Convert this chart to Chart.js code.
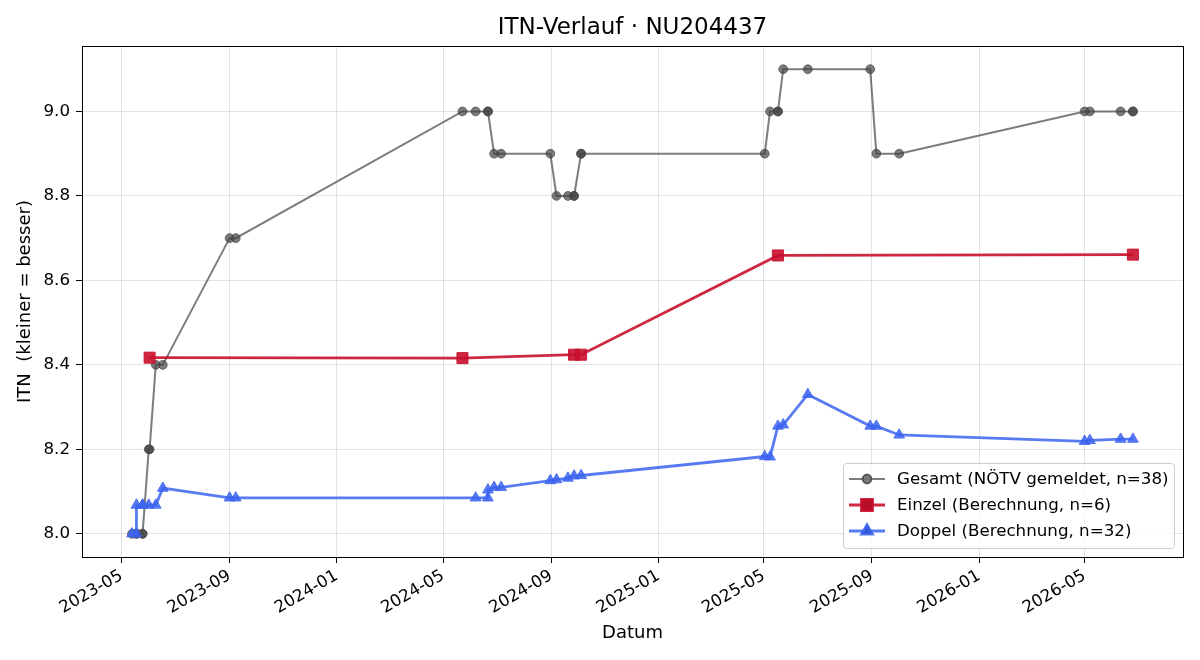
<!DOCTYPE html>
<html>
<head>
<meta charset="utf-8">
<style>
  body { margin: 0; background: #fff; }
  canvas { display: block; }
</style>
<script src="https://cdn.jsdelivr.net/npm/chart.js@4/dist/chart.umd.min.js"></script>
</head>
<body>
<canvas id="chart" width="1200" height="660"></canvas>
<script>
const gesamtDates = ['2023-05-13', '2023-05-18', '2023-05-18', '2023-05-25', '2023-05-25', '2023-06-01', '2023-06-02', '2023-06-09', '2023-06-17',
  '2023-09-01', '2023-09-08',
  '2024-05-23', '2024-06-07', '2024-06-21', '2024-06-21', '2024-06-28', '2024-07-06', '2024-08-31', '2024-09-07', '2024-09-20', '2024-09-27', '2024-09-27', '2024-10-05', '2024-10-05',
  '2025-05-02', '2025-05-08', '2025-05-17', '2025-05-17', '2025-05-23', '2025-06-20', '2025-08-30', '2025-09-06', '2025-10-02',
  '2026-05-01', '2026-05-07', '2026-06-11', '2026-06-25', '2026-06-25'];
const gesamtValues = [8.0, 8.0, 8.0, 8.0, 8.0, 8.2, 8.2, 8.4, 8.4,
  8.7, 8.7,
  9.0, 9.0, 9.0, 9.0, 8.9, 8.9, 8.9, 8.8, 8.8, 8.8, 8.8, 8.9, 8.9,
  8.9, 9.0, 9.0, 9.0, 9.1, 9.1, 9.1, 8.9, 8.9,
  9.0, 9.0, 9.0, 9.0, 9.0];

const einzelDates = ['2023-06-02', '2024-05-23', '2024-09-27', '2024-10-05', '2025-05-17', '2026-06-25'];
const einzelValues = [8.417, 8.416, 8.424, 8.424, 8.659, 8.661];

const doppelDates = ['2023-05-13', '2023-05-18', '2023-05-18', '2023-05-25', '2023-05-25', '2023-06-01', '2023-06-09', '2023-06-17',
  '2023-09-01', '2023-09-08',
  '2024-06-07', '2024-06-21', '2024-06-21', '2024-06-28', '2024-07-06', '2024-08-31', '2024-09-07', '2024-09-20', '2024-09-27', '2024-10-05',
  '2025-05-02', '2025-05-08', '2025-05-17', '2025-05-23', '2025-06-20', '2025-08-30', '2025-09-06', '2025-10-02',
  '2026-05-01', '2026-05-07', '2026-06-11', '2026-06-25'];
const doppelValues = [8.0, 8.0, 8.068, 8.068, 8.068, 8.068, 8.068, 8.108,
  8.085, 8.085,
  8.085, 8.085, 8.104, 8.110, 8.110, 8.126, 8.128, 8.132, 8.137, 8.138,
  8.183, 8.182, 8.255, 8.258, 8.330, 8.255, 8.255, 8.234,
  8.219, 8.221, 8.224, 8.224];

const xTickLabels = ['2023-05', '2023-09', '2024-01', '2024-05', '2024-09', '2025-01', '2025-05', '2025-09', '2026-01', '2026-05'];
const yTicks = [8.0, 8.2, 8.4, 8.6, 8.8, 9.0];

const FONT = "'DejaVu Sans', 'Liberation Sans', sans-serif";
const FS = 16.7;
const chartTitle = 'ITN-Verlauf · NU204437';
Chart.defaults.font.family = FONT;
Chart.defaults.color = '#000';

function toPoints(dates, values) {
  return dates.map((d, i) => ({ x: Date.parse(d), y: values[i] }));
}

// matplotlib-like 5% margins
const allX = gesamtDates.concat(einzelDates, doppelDates).map(d => Date.parse(d));
const allY = gesamtValues.concat(einzelValues, doppelValues);
const xMin0 = Math.min(...allX), xMax0 = Math.max(...allX);
const yMin0 = Math.min(...allY), yMax0 = Math.max(...allY);
const xPad = (xMax0 - xMin0) * 0.05, yPad = (yMax0 - yMin0) * 0.05;

const grey = 'rgba(68,68,68,0.7)';
const red = 'rgba(200,16,46,0.9)';
const blue = 'rgba(60,100,240,0.85)';

const frame = {
  id: 'frame',
  afterDatasetsDraw(chart) {
    const { ctx, chartArea: a } = chart;
    ctx.save();
    ctx.strokeStyle = '#000';
    ctx.lineWidth = 1;
    ctx.strokeRect(Math.round(a.left) + 0.5, Math.round(a.top) + 0.5, Math.round(a.right - a.left), Math.round(a.bottom - a.top));
    ctx.restore();
  },
  afterDraw(chart) {
    const { ctx, chartArea: a } = chart;
    ctx.save();
    // title centred over the plot area
    ctx.font = '23px ' + FONT;
    ctx.fillStyle = '#000';
    ctx.textAlign = 'center';
    ctx.textBaseline = 'middle';
    ctx.fillText(chartTitle, (a.left + a.right) / 2, 28);

    // legend, lower right inside the axes
    const w = 331, h = 85;
    const bx = a.right - 9 - w, by = a.bottom - 9 - h;
    ctx.beginPath();
    ctx.roundRect(bx + 0.5, by + 0.5, w, h, 3);
    ctx.fillStyle = 'rgba(255,255,255,0.8)';
    ctx.fill();
    ctx.strokeStyle = '#cccccc';
    ctx.lineWidth = 1;
    ctx.stroke();
    ctx.font = FS + 'px ' + FONT;
    ctx.textAlign = 'left';
    chart.data.datasets.forEach((ds, i) => {
      const y = by + 16 + i * 26;
      ctx.beginPath();
      ctx.moveTo(bx + 6, y);
      ctx.lineTo(bx + 42, y);
      ctx.strokeStyle = ds.borderColor;
      ctx.lineWidth = ds.borderWidth;
      ctx.stroke();
      Chart.helpers.drawPoint(ctx, {
        pointStyle: ds.pointStyle, radius: ds.pointRadius, borderWidth: 1, rotation: 0
      }, bx + 24, y);
      ctx.fillStyle = ds.pointBackgroundColor;
      ctx.strokeStyle = ds.pointBorderColor;
      ctx.lineWidth = 1;
      ctx.fill();
      ctx.stroke();
      ctx.fillStyle = '#000';
      ctx.fillText(ds.label, bx + 54, y + 1);
    });
    ctx.restore();
  }
};

new Chart(document.getElementById('chart'), {
  type: 'line',
  data: {
    datasets: [
      {
        label: 'Gesamt (NÖTV gemeldet, n=' + gesamtValues.length + ')',
        data: toPoints(gesamtDates, gesamtValues),
        borderColor: grey, backgroundColor: grey,
        pointBackgroundColor: grey, pointBorderColor: grey,
        borderWidth: 2, pointStyle: 'circle', pointRadius: 4.4, pointBorderWidth: 1,
        order: 3
      },
      {
        label: 'Einzel (Berechnung, n=' + einzelValues.length + ')',
        data: toPoints(einzelDates, einzelValues),
        borderColor: red, backgroundColor: red,
        pointBackgroundColor: red, pointBorderColor: red,
        borderWidth: 2.8, pointStyle: 'rect', pointRadius: 7.8, pointBorderWidth: 1,
        order: 2
      },
      {
        label: 'Doppel (Berechnung, n=' + doppelValues.length + ')',
        data: toPoints(doppelDates, doppelValues),
        borderColor: blue, backgroundColor: blue,
        pointBackgroundColor: blue, pointBorderColor: blue,
        borderWidth: 2.8, pointStyle: 'triangle', pointRadius: 6.2, pointBorderWidth: 1,
        order: 1
      }
    ]
  },
  options: {
    responsive: false,
    devicePixelRatio: 1,
    animation: false,
    layout: { padding: { left: 0, right: 17, top: 46, bottom: 0 } },
    plugins: {
      legend: { display: false },
      tooltip: { enabled: false },
      title: { display: false }
    },
    scales: {
      x: {
        type: 'linear',
        min: xMin0 - xPad,
        max: xMax0 + xPad,
        afterBuildTicks: scale => {
          scale.ticks = xTickLabels.map(s => ({ value: Date.parse(s + '-01') }));
        },
        afterFit: scale => { scale.height = 103; },
        ticks: {
          autoSkip: false,
          maxRotation: 30,
          minRotation: 30,
          padding: 3,
          font: { size: FS },
          callback: v => {
            const d = new Date(v);
            return d.getUTCFullYear() + '-' + String(d.getUTCMonth() + 1).padStart(2, '0');
          }
        },
        grid: { color: 'rgba(176,176,176,0.35)', tickColor: '#000', tickLength: 6 },
        border: { color: '#000', width: 1 },
        title: { display: true, text: 'Datum', font: { size: 18 }, padding: { top: 4, bottom: 16 } }
      },
      y: {
        type: 'linear',
        min: yMin0 - yPad,
        max: yMax0 + yPad,
        afterBuildTicks: scale => {
          scale.ticks = yTicks.map(v => ({ value: v }));
        },
        afterFit: scale => { scale.width = 82; },
        ticks: {
          padding: 6,
          font: { size: FS },
          callback: v => v.toFixed(1)
        },
        grid: { color: 'rgba(176,176,176,0.35)', tickColor: '#000', tickLength: 6 },
        border: { color: '#000', width: 1 },
        title: { display: true, text: 'ITN  (kleiner = besser)', font: { size: 18 }, padding: { top: 15, bottom: 4 } }
      }
    }
  },
  plugins: [frame]
});
</script>
</body>
</html>
